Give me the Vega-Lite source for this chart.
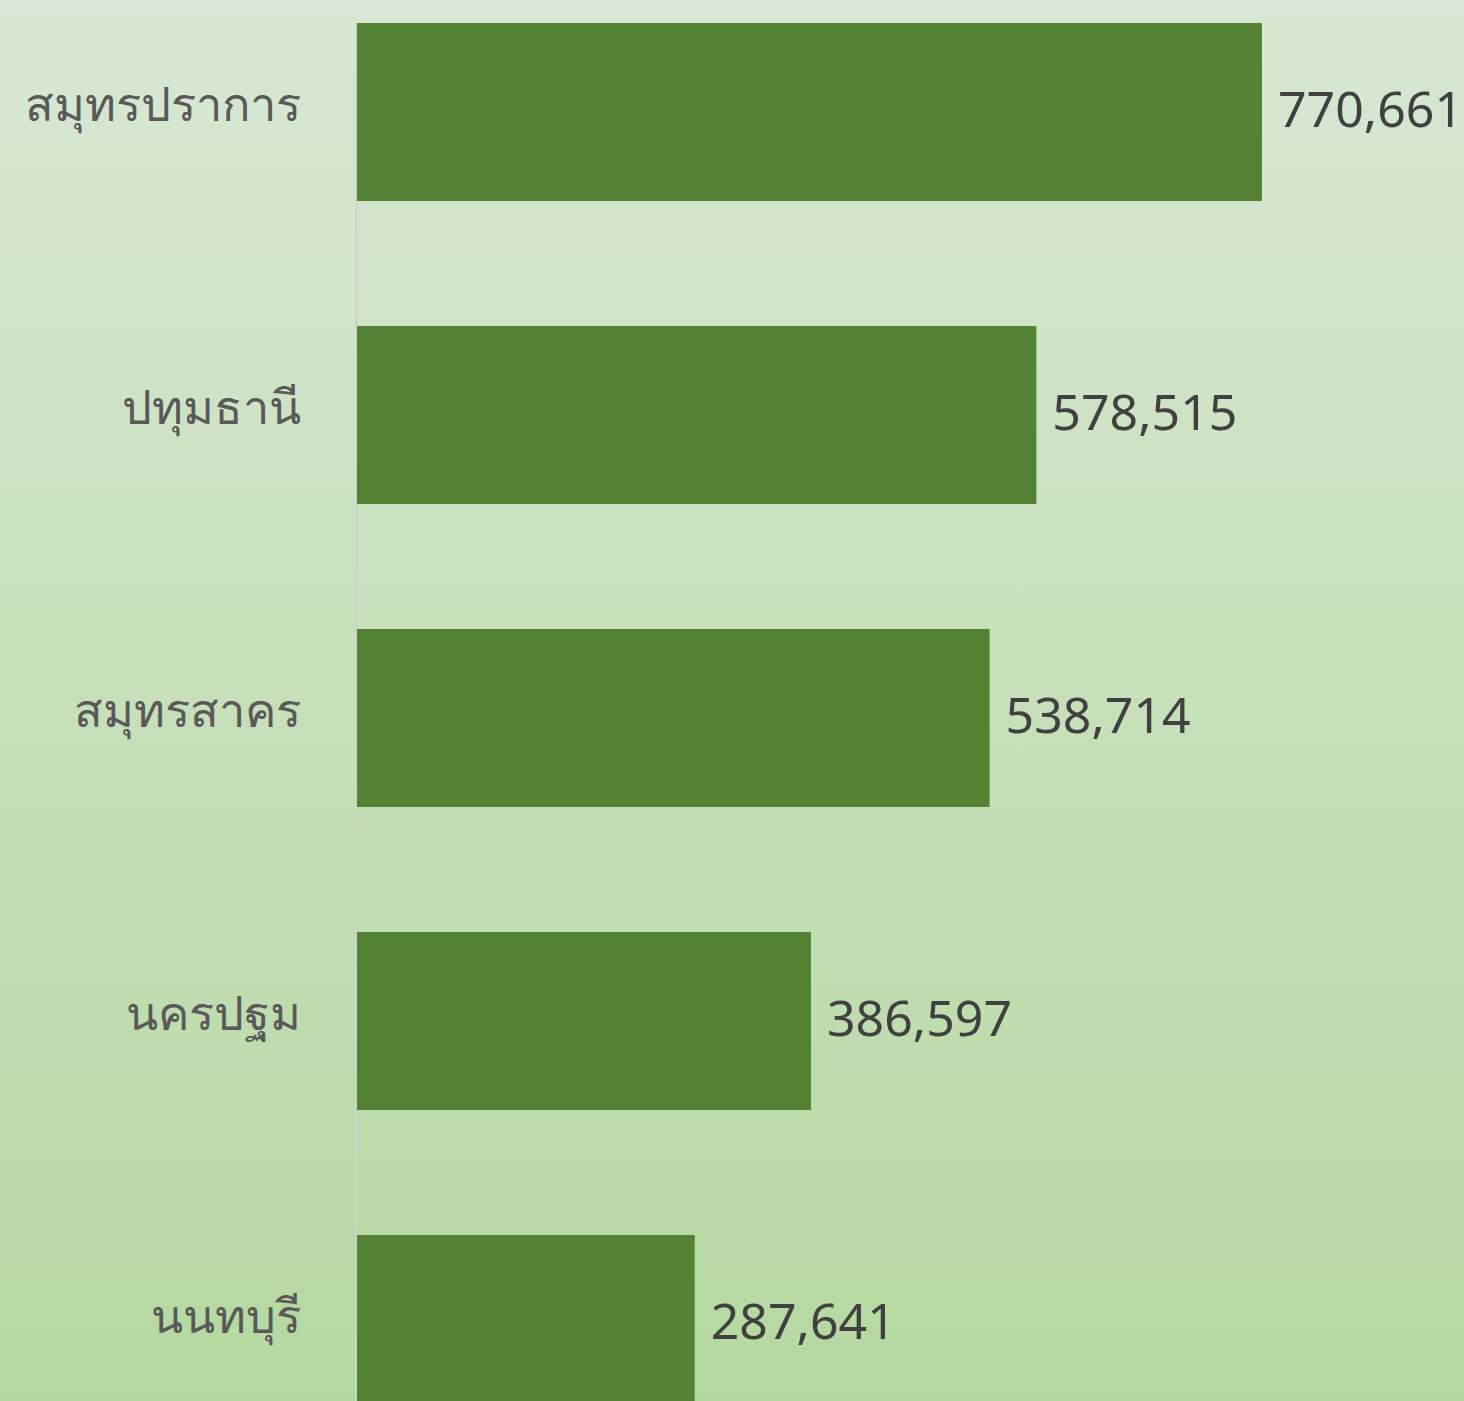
{
  "$schema": "https://vega.github.io/schema/vega-lite/v6.json",
  "width": 1464,
  "height": 1401,
  "autosize": {"type": "none"},
  "padding": 0,
  "background": "#c6dfbb",
  "config": {
    "view": {
      "stroke": null,
      "fill": {
        "gradient": "linear",
        "x1": 0, "y1": 0, "x2": 0, "y2": 1,
        "stops": [
          {"offset": 0, "color": "#d8e8d4"},
          {"offset": 1, "color": "#b5d8a0"}
        ]
      }
    },
    "font": "Noto Sans"
  },
  "data": {
    "values": [
      {"province": "สมุทรปราการ", "value": 770661},
      {"province": "ปทุมธานี", "value": 578515},
      {"province": "สมุทรสาคร", "value": 538714},
      {"province": "นครปฐม", "value": 386597},
      {"province": "นนทบุรี", "value": 287641}
    ]
  },
  "encoding": {
    "y": {
      "field": "province",
      "type": "nominal",
      "sort": {"field": "value", "order": "descending"},
      "scale": {"range": [23, 1413], "paddingInner": 0.4125, "paddingOuter": 0},
      "axis": {
        "title": null,
        "ticks": false,
        "offset": -356,
        "labelPadding": 56,
        "labelFontSize": 47,
        "labelLimit": 0,
        "labelOffset": -5,
        "labelColor": "#595959",
        "labelFont": "Noto Sans",
        "domainColor": "#d0d0d0",
        "domainWidth": 2
      }
    },
    "x": {
      "field": "value",
      "type": "quantitative",
      "scale": {"domain": [0, 942700], "range": [357, 1464], "nice": false},
      "axis": null
    }
  },
  "layer": [
    {"mark": {"type": "bar", "color": "#548235", "clip": true}},
    {
      "mark": {"type": "text", "align": "left", "baseline": "middle", "dx": 16, "fontSize": 50, "color": "#404040", "font": "Noto Sans"},
      "encoding": {"text": {"field": "value", "type": "quantitative", "format": ","}}
    }
  ]
}
